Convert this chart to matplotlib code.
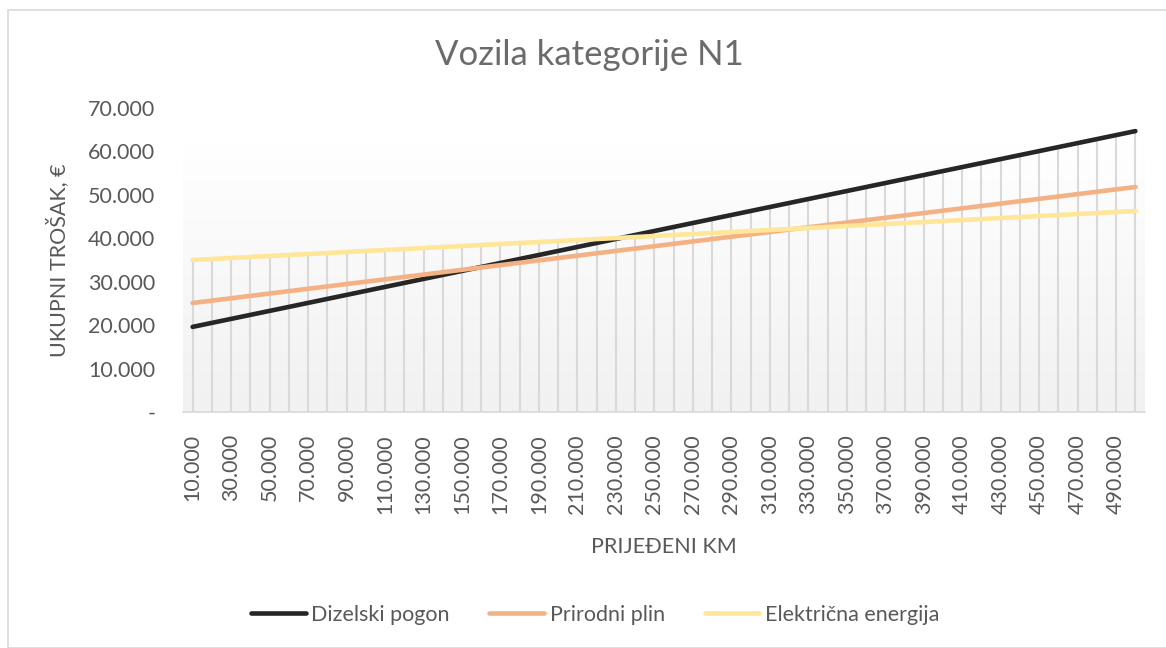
import numpy as np
import matplotlib
matplotlib.use('Agg')
import matplotlib.pyplot as plt
from matplotlib.patches import Rectangle
from matplotlib.colors import LinearSegmentedColormap

plt.rcParams['font.family'] = ['Lato', 'DejaVu Sans']

# --- DATA ---
km = list(range(10000, 500001, 10000))
km_labels = [f"{k // 1000}.000" for k in km]

dizel = [19600, 20520, 21440, 22360, 23280, 24200, 25120, 26040, 26960, 27880,
         28800, 29720, 30640, 31560, 32480, 33400, 34320, 35240, 36160, 37080,
         38000, 38920, 39840, 40760, 41680, 42600, 43520, 44440, 45360, 46280,
         47200, 48120, 49040, 49960, 50880, 51800, 52720, 53640, 54560, 55480,
         56400, 57320, 58240, 59160, 60080, 61000, 61920, 62840, 63760, 64680]
plin = [25100, 25645, 26190, 26735, 27280, 27825, 28370, 28915, 29460, 30005,
        30550, 31095, 31640, 32185, 32730, 33275, 33820, 34365, 34910, 35455,
        36000, 36545, 37090, 37635, 38180, 38725, 39270, 39815, 40360, 40905,
        41450, 41995, 42540, 43085, 43630, 44175, 44720, 45265, 45810, 46355,
        46900, 47445, 47990, 48535, 49080, 49625, 50170, 50715, 51260, 51805]
struja = [35000, 35230, 35460, 35690, 35920, 36150, 36380, 36610, 36840, 37070,
          37300, 37530, 37760, 37990, 38220, 38450, 38680, 38910, 39140, 39370,
          39600, 39830, 40060, 40290, 40520, 40750, 40980, 41210, 41440, 41670,
          41900, 42130, 42360, 42590, 42820, 43050, 43280, 43510, 43740, 43970,
          44200, 44430, 44660, 44890, 45120, 45350, 45580, 45810, 46040, 46270]

series = [("Dizelski pogon", dizel, "#262626"),
          ("Prirodni plin", plin, "#F4B183"),
          ("Električna energija", struja, "#FFE699")]

y_ticks = [0, 10000, 20000, 30000, 40000, 50000, 60000, 70000]
y_labels = ["-", "10.000", "20.000", "30.000", "40.000", "50.000", "60.000", "70.000"]

txt = "#595959"
fs = 15.5

fig = plt.figure(figsize=(11.66, 6.48), dpi=100)
fig.patches.append(Rectangle((8 / 1166, 0), 1.0, 1 - 10 / 648, transform=fig.transFigure,
                             fill=False, edgecolor="#d9d9d9", linewidth=1.2))

ax = fig.add_axes([183 / 1166, 1 - 412 / 648, 962 / 1166, 304 / 648])
x = np.arange(len(km))

# gradient plot background
grad = np.linspace(1, 0, 256).reshape(-1, 1)
cmap = LinearSegmentedColormap.from_list("g", ["#f1f1f1", "#ffffff"])
ax.imshow(grad, cmap=cmap, aspect="auto", extent=[-0.5, 49.5, 0, 62000], zorder=0, origin="upper")

# drop lines to the highest series
top = np.max([dizel, plin, struja], axis=0)
ax.vlines(x, 0, top, color="#d9d9d9", linewidth=1.5, zorder=1)

for name, vals, col in series:
    ax.plot(x, vals, color=col, linewidth=3.3, solid_capstyle="round", label=name, zorder=3)

ax.set_xlim(-0.5, 49.5)
ax.set_ylim(0, 70000)
ax.set_yticks(y_ticks)
ax.set_yticklabels(y_labels, color=txt, fontsize=fs)
ax.set_xticks(x[::2])
ax.set_xticklabels(km_labels[::2], rotation=90, color=txt, fontsize=fs)
ax.tick_params(axis="x", length=0, pad=16)
ax.tick_params(axis="y", length=0, pad=20)
for s in ["top", "right", "left"]:
    ax.spines[s].set_visible(False)
ax.spines["bottom"].set_color("#d9d9d9")
ax.spines["bottom"].set_linewidth(1.2)

fig.text(58 / 1166, 1 - 260 / 648, "UKUPNI TROŠAK, €", color=txt, fontsize=fs,
         rotation=90, ha="center", va="center")
fig.text(664 / 1166, 1 - 547 / 648, "PRIJEĐENI KM", color=txt, fontsize=fs,
         ha="center", va="center")
fig.text(589 / 1166, 1 - 55 / 648, "Vozila kategorije N1", color="#6b6b6b", fontsize=25,
         ha="center", va="center")

fig.legend(loc="center", bbox_to_anchor=(595 / 1166, 1 - 615 / 648), ncol=3, frameon=False,
           fontsize=fs, labelcolor=txt, handlelength=2.55, handletextpad=0.25, columnspacing=1.85)

fig.savefig("out.png", dpi=100)
